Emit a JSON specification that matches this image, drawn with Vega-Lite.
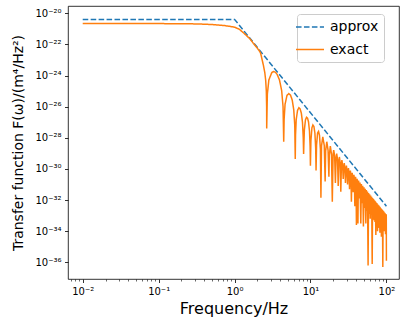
{
  "$schema": "https://vega.github.io/schema/vega-lite/v6.json",
  "width": 331,
  "height": 273,
  "autosize": "none",
  "padding": {"left": 68, "top": 6, "right": 9, "bottom": 47},
  "config": {
    "font": "DejaVu Sans",
    "view": {"stroke": "#000000", "strokeWidth": 0.8},
    "axis": {
      "grid": false, "domain": false,
      "tickColor": "#000000", "labelColor": "#000000", "titleColor": "#000000",
      "labelFont": "DejaVu Sans", "titleFont": "DejaVu Sans",
      "labelFontSize": 10, "titleFontWeight": "normal",
      "tickSize": 3.5, "tickWidth": 0.8, "labelPadding": 3.5,
      "labelFlush": false, "labelOverlap": false
    }
  },
  "datasets": {
    "approx": [
      {"f": 0.01, "F": 4.07e-21, "s": "approx"},
      {"f": 1, "F": 4.07e-21, "s": "approx"},
      {"f": 100, "F": 4.07e-33, "s": "approx"}
    ],
    "exact": [
      {"f": 0.01, "F": 2.188e-21, "s": "exact"},
      {"f": 0.05, "F": 2.188e-21, "s": "exact"},
      {"f": 0.1, "F": 2.188e-21, "s": "exact"},
      {"f": 0.2, "F": 2.138e-21, "s": "exact"},
      {"f": 0.3, "F": 2.089e-21, "s": "exact"},
      {"f": 0.4, "F": 1.995e-21, "s": "exact"},
      {"f": 0.5, "F": 1.905e-21, "s": "exact"},
      {"f": 0.6, "F": 1.778e-21, "s": "exact"},
      {"f": 0.714, "F": 1.66e-21, "s": "exact"},
      {"f": 0.85, "F": 1.479e-21, "s": "exact"},
      {"f": 1.0, "F": 1.288e-21, "s": "exact"},
      {"f": 1.15, "F": 9.55e-22, "s": "exact"},
      {"f": 1.31, "F": 5.623e-22, "s": "exact"},
      {"f": 1.45, "F": 3.548e-22, "s": "exact"},
      {"f": 1.6, "F": 2.239e-22, "s": "exact"},
      {"f": 1.77, "F": 1.175e-22, "s": "exact"},
      {"f": 1.96, "F": 6.31e-23, "s": "exact"},
      {"f": 2.1, "F": 4.169e-23, "s": "exact"},
      {"f": 2.2, "F": 2.818e-23, "s": "exact"},
      {"f": 2.3, "F": 1.122e-23, "s": "exact"},
      {"f": 2.4, "F": 4.467e-24, "s": "exact"},
      {"f": 2.5, "F": 1.585e-24, "s": "exact"},
      {"f": 2.57, "F": 5.012e-25, "s": "exact"},
      {"f": 2.62, "F": 1e-25, "s": "exact"},
      {"f": 2.645, "F": 1e-26, "s": "exact"},
      {"f": 2.65, "F": 3.981e-28, "s": "exact"},
      {"f": 2.704, "F": 6.457e-26, "s": "exact"},
      {"f": 2.829, "F": 5.248e-25, "s": "exact"},
      {"f": 3.0975, "F": 1.585e-24, "s": "exact"},
      {"f": 3.2765, "F": 1.82e-24, "s": "exact"},
      {"f": 3.4555, "F": 1.622e-24, "s": "exact"},
      {"f": 3.6345, "F": 1.202e-24, "s": "exact"},
      {"f": 3.903, "F": 5.248e-25, "s": "exact"},
      {"f": 4.1715, "F": 1.096e-25, "s": "exact"},
      {"f": 4.3505, "F": 1.023e-26, "s": "exact"},
      {"f": 4.44, "F": 5.623e-29, "s": "exact"},
      {"f": 4.496, "F": 1.585e-27, "s": "exact"},
      {"f": 4.626, "F": 1.445e-26, "s": "exact"},
      {"f": 4.905, "F": 5.37e-26, "s": "exact"},
      {"f": 5.184, "F": 6.918e-26, "s": "exact"},
      {"f": 5.463, "F": 5.495e-26, "s": "exact"},
      {"f": 5.742, "F": 2.692e-26, "s": "exact"},
      {"f": 6.021, "F": 6.31e-27, "s": "exact"},
      {"f": 6.207, "F": 6.31e-28, "s": "exact"},
      {"f": 6.3, "F": 4.365e-30, "s": "exact"},
      {"f": 6.355, "F": 1.514e-28, "s": "exact"},
      {"f": 6.482, "F": 1.445e-27, "s": "exact"},
      {"f": 6.755, "F": 5.888e-27, "s": "exact"},
      {"f": 7.028, "F": 8.511e-27, "s": "exact"},
      {"f": 7.301, "F": 7.244e-27, "s": "exact"},
      {"f": 7.574, "F": 3.89e-27, "s": "exact"},
      {"f": 7.847, "F": 9.772e-28, "s": "exact"},
      {"f": 8.029, "F": 1.023e-28, "s": "exact"},
      {"f": 8.12, "F": 9.12e-30, "s": "exact"},
      {"f": 8.176, "F": 3.311e-29, "s": "exact"},
      {"f": 8.306, "F": 3.236e-28, "s": "exact"},
      {"f": 8.585, "F": 1.413e-27, "s": "exact"},
      {"f": 8.864, "F": 2.089e-27, "s": "exact"},
      {"f": 9.143, "F": 1.862e-27, "s": "exact"},
      {"f": 9.422, "F": 1.047e-27, "s": "exact"},
      {"f": 9.701, "F": 2.754e-28, "s": "exact"},
      {"f": 9.887, "F": 2.951e-29, "s": "exact"},
      {"f": 9.98, "F": 1.585e-30, "s": "exact"},
      {"f": 10.129, "F": 6.457e-29, "s": "exact"},
      {"f": 10.445, "F": 4.365e-28, "s": "exact"},
      {"f": 10.761, "F": 6.761e-28, "s": "exact"},
      {"f": 11.096, "F": 5.37e-28, "s": "exact"},
      {"f": 11.431, "F": 2.042e-28, "s": "exact"},
      {"f": 11.71, "F": 2.089e-29, "s": "exact"},
      {"f": 11.84, "F": 7.943e-31, "s": "exact"},
      {"f": 12.026, "F": 3.548e-29, "s": "exact"},
      {"f": 12.398, "F": 2.042e-28, "s": "exact"},
      {"f": 12.77, "F": 2.57e-28, "s": "exact"},
      {"f": 13.142, "F": 1.445e-28, "s": "exact"},
      {"f": 13.514, "F": 1.778e-29, "s": "exact"},
      {"f": 13.72, "F": 1.413e-32, "s": "exact"},
      {"f": 13.979, "F": 3.09e-29, "s": "exact"},
      {"f": 14.537, "F": 1.148e-28, "s": "exact"},
      {"f": 15.188, "F": 3.162e-29, "s": "exact"},
      {"f": 15.6, "F": 1.585e-31, "s": "exact"},
      {"f": 15.839, "F": 1.445e-29, "s": "exact"},
      {"f": 16.397, "F": 5.623e-29, "s": "exact"},
      {"f": 17.048, "F": 1.585e-29, "s": "exact"},
      {"f": 17.48, "F": 3.162e-31, "s": "exact"},
      {"f": 17.699, "F": 7.413e-30, "s": "exact"},
      {"f": 18.257, "F": 2.951e-29, "s": "exact"},
      {"f": 18.908, "F": 8.511e-30, "s": "exact"},
      {"f": 19.38, "F": 7.943e-33, "s": "exact"},
      {"f": 19.855, "F": 9.12e-30, "s": "exact"},
      {"f": 20.23, "F": 1.622e-29, "s": "exact"},
      {"f": 20.805, "F": 6.918e-30, "s": "exact"},
      {"f": 21.28, "F": 1.259e-31, "s": "exact"},
      {"f": 21.755, "F": 5.248e-30, "s": "exact"},
      {"f": 22.13, "F": 9.55e-30, "s": "exact"},
      {"f": 22.705, "F": 4.074e-30, "s": "exact"},
      {"f": 23.18, "F": 7.943e-32, "s": "exact"},
      {"f": 23.655, "F": 3.236e-30, "s": "exact"},
      {"f": 24.03, "F": 5.888e-30, "s": "exact"},
      {"f": 24.605, "F": 2.512e-30, "s": "exact"},
      {"f": 25.08, "F": 3.467e-32, "s": "exact"},
      {"f": 25.555, "F": 1.995e-30, "s": "exact"},
      {"f": 25.93, "F": 3.715e-30, "s": "exact"},
      {"f": 26.505, "F": 1.622e-30, "s": "exact"},
      {"f": 26.98, "F": 2.239e-31, "s": "exact"},
      {"f": 27.455, "F": 1.318e-30, "s": "exact"},
      {"f": 27.83, "F": 2.399e-30, "s": "exact"},
      {"f": 28.405, "F": 1.072e-30, "s": "exact"},
      {"f": 28.88, "F": 1.259e-31, "s": "exact"},
      {"f": 29.355, "F": 8.71e-31, "s": "exact"},
      {"f": 29.73, "F": 1.622e-30, "s": "exact"},
      {"f": 30.305, "F": 7.244e-31, "s": "exact"},
      {"f": 30.78, "F": 1e-31, "s": "exact"},
      {"f": 31.255, "F": 6.026e-31, "s": "exact"},
      {"f": 31.63, "F": 1.122e-30, "s": "exact"},
      {"f": 32.205, "F": 5.012e-31, "s": "exact"},
      {"f": 32.68, "F": 5.012e-32, "s": "exact"},
      {"f": 33.155, "F": 4.266e-31, "s": "exact"},
      {"f": 33.53, "F": 7.943e-31, "s": "exact"},
      {"f": 34.105, "F": 3.548e-31, "s": "exact"},
      {"f": 34.58, "F": 7.943e-33, "s": "exact"},
      {"f": 35.055, "F": 3.02e-31, "s": "exact"},
      {"f": 35.43, "F": 5.623e-31, "s": "exact"},
      {"f": 36.005, "F": 2.57e-31, "s": "exact"},
      {"f": 36.48, "F": 3.162e-32, "s": "exact"},
      {"f": 36.955, "F": 2.188e-31, "s": "exact"},
      {"f": 37.33, "F": 4.169e-31, "s": "exact"},
      {"f": 37.905, "F": 1.905e-31, "s": "exact"},
      {"f": 38.38, "F": 3.981e-33, "s": "exact"},
      {"f": 38.855, "F": 1.622e-31, "s": "exact"},
      {"f": 39.23, "F": 3.09e-31, "s": "exact"},
      {"f": 39.805, "F": 1.413e-31, "s": "exact"},
      {"f": 40.28, "F": 2.512e-34, "s": "exact"},
      {"f": 40.755, "F": 1.23e-31, "s": "exact"},
      {"f": 41.13, "F": 2.291e-31, "s": "exact"},
      {"f": 41.705, "F": 1.072e-31, "s": "exact"},
      {"f": 42.18, "F": 3.162e-34, "s": "exact"},
      {"f": 42.655, "F": 9.333e-32, "s": "exact"},
      {"f": 43.03, "F": 1.778e-31, "s": "exact"},
      {"f": 43.605, "F": 8.128e-32, "s": "exact"},
      {"f": 44.08, "F": 1.259e-32, "s": "exact"},
      {"f": 44.93, "F": 1.349e-31, "s": "exact"},
      {"f": 45.98, "F": 3.162e-34, "s": "exact"},
      {"f": 46.83, "F": 1.072e-31, "s": "exact"},
      {"f": 47.88, "F": 6.31e-33, "s": "exact"},
      {"f": 48.73, "F": 8.318e-32, "s": "exact"},
      {"f": 49.78, "F": 1.995e-34, "s": "exact"},
      {"f": 50.63, "F": 6.607e-32, "s": "exact"},
      {"f": 51.68, "F": 3.162e-33, "s": "exact"},
      {"f": 52.53, "F": 5.37e-32, "s": "exact"},
      {"f": 53.58, "F": 3.162e-34, "s": "exact"},
      {"f": 54.43, "F": 4.365e-32, "s": "exact"},
      {"f": 55.48, "F": 1.995e-33, "s": "exact"},
      {"f": 56.33, "F": 3.548e-32, "s": "exact"},
      {"f": 57.38, "F": 6.31e-37, "s": "exact"},
      {"f": 58.23, "F": 2.884e-32, "s": "exact"},
      {"f": 59.28, "F": 1.259e-33, "s": "exact"},
      {"f": 60.13, "F": 2.399e-32, "s": "exact"},
      {"f": 61.18, "F": 6.31e-34, "s": "exact"},
      {"f": 62.03, "F": 1.95e-32, "s": "exact"},
      {"f": 63.08, "F": 1.259e-33, "s": "exact"},
      {"f": 63.93, "F": 1.66e-32, "s": "exact"},
      {"f": 64.98, "F": 7.943e-37, "s": "exact"},
      {"f": 65.83, "F": 1.38e-32, "s": "exact"},
      {"f": 66.88, "F": 6.31e-34, "s": "exact"},
      {"f": 67.73, "F": 1.175e-32, "s": "exact"},
      {"f": 68.78, "F": 5.012e-34, "s": "exact"},
      {"f": 69.63, "F": 9.772e-33, "s": "exact"},
      {"f": 70.68, "F": 3.981e-34, "s": "exact"},
      {"f": 71.53, "F": 8.318e-33, "s": "exact"},
      {"f": 72.58, "F": 5.623e-35, "s": "exact"},
      {"f": 73.43, "F": 7.079e-33, "s": "exact"},
      {"f": 74.48, "F": 3.162e-34, "s": "exact"},
      {"f": 75.33, "F": 6.166e-33, "s": "exact"},
      {"f": 76.38, "F": 1e-34, "s": "exact"},
      {"f": 77.23, "F": 5.248e-33, "s": "exact"},
      {"f": 78.28, "F": 2.512e-34, "s": "exact"},
      {"f": 79.13, "F": 4.571e-33, "s": "exact"},
      {"f": 80.18, "F": 1.585e-34, "s": "exact"},
      {"f": 81.03, "F": 3.981e-33, "s": "exact"},
      {"f": 82.08, "F": 7.943e-35, "s": "exact"},
      {"f": 82.93, "F": 3.467e-33, "s": "exact"},
      {"f": 83.98, "F": 1.995e-34, "s": "exact"},
      {"f": 84.83, "F": 3.02e-33, "s": "exact"},
      {"f": 85.88, "F": 4.467e-35, "s": "exact"},
      {"f": 86.73, "F": 2.63e-33, "s": "exact"},
      {"f": 87.78, "F": 1.585e-34, "s": "exact"},
      {"f": 88.63, "F": 2.291e-33, "s": "exact"},
      {"f": 89.68, "F": 5.012e-37, "s": "exact"},
      {"f": 90.53, "F": 2.042e-33, "s": "exact"},
      {"f": 91.58, "F": 1.259e-34, "s": "exact"},
      {"f": 92.43, "F": 1.82e-33, "s": "exact"},
      {"f": 93.48, "F": 1e-34, "s": "exact"},
      {"f": 94.33, "F": 1.585e-33, "s": "exact"},
      {"f": 95.38, "F": 1.259e-34, "s": "exact"},
      {"f": 96.23, "F": 1.413e-33, "s": "exact"},
      {"f": 97.28, "F": 6.31e-35, "s": "exact"},
      {"f": 98.13, "F": 1.259e-33, "s": "exact"},
      {"f": 99.18, "F": 1e-34, "s": "exact"},
      {"f": 99.6, "F": 1.175e-33, "s": "exact"},
      {"f": 100, "F": 1.259e-36, "s": "exact"}
    ]
  },
  "encoding": {
    "x": {
      "field": "f", "type": "quantitative",
      "scale": {"type": "log", "domain": [0.0064, 146.5], "nice": false},
      "axis": {
        "title": "Frequency/Hz", "titleFontSize": 16,
        "titleBaseline": "alphabetic", "titleY": 34.5,
        "values": [0.007, 0.008, 0.009, 0.01, 0.02, 0.03, 0.04, 0.05, 0.06, 0.07, 0.08, 0.09, 0.1, 0.2, 0.3, 0.4, 0.5, 0.6, 0.7, 0.8, 0.9, 1, 2, 3, 4, 5, 6, 7, 8, 9, 10, 20, 30, 40, 50, 60, 70, 80, 90, 100],
        "tickSize": {"condition": {"test": "abs(log(datum.value)/LN10 - round(log(datum.value)/LN10)) < 0.01", "value": 3.5}, "value": 2},
        "tickWidth": {"condition": {"test": "abs(log(datum.value)/LN10 - round(log(datum.value)/LN10)) < 0.01", "value": 0.8}, "value": 0.6},
        "labelExpr": "abs(log(datum.value)/LN10 - round(log(datum.value)/LN10)) < 0.01 ? '10' + replace(replace(replace(replace(replace(replace(replace(replace(replace(replace(replace('' + round(log(datum.value)/LN10), regexp('-','g'), '⁻'), regexp('0','g'), '⁰'), regexp('1','g'), '¹'), regexp('2','g'), '²'), regexp('3','g'), '³'), regexp('4','g'), '⁴'), regexp('5','g'), '⁵'), regexp('6','g'), '⁶'), regexp('7','g'), '⁷'), regexp('8','g'), '⁸'), regexp('9','g'), '⁹') : ''"
      }
    },
    "y": {
      "field": "F", "type": "quantitative",
      "scale": {"type": "log", "domain": [8.511e-38, 2.951e-20], "nice": false},
      "axis": {
        "title": "Transfer function F(ω)/(m⁴/Hz²)", "titleFontSize": 14,
        "titleBaseline": "alphabetic", "titleX": -46,
        "values": [1e-36, 1e-34, 1e-32, 1e-30, 1e-28, 1e-26, 1e-24, 1e-22, 1e-20],
        "labelExpr": "'10' + replace(replace(replace(replace(replace(replace(replace(replace(replace(replace(replace('' + round(log(datum.value)/LN10), regexp('-','g'), '⁻'), regexp('0','g'), '⁰'), regexp('1','g'), '¹'), regexp('2','g'), '²'), regexp('3','g'), '³'), regexp('4','g'), '⁴'), regexp('5','g'), '⁵'), regexp('6','g'), '⁶'), regexp('7','g'), '⁷'), regexp('8','g'), '⁸'), regexp('9','g'), '⁹')"
      }
    },
    "color": {
      "field": "s", "type": "nominal",
      "scale": {"domain": ["approx", "exact"], "range": ["#1f77b4", "#ff7f0e"]},
      "legend": {"title": null, "orient": "none", "legendX": 229, "legendY": 8,
        "padding": 5, "fillColor": "rgba(255,255,255,0.8)", "strokeColor": "#cccccc",
        "cornerRadius": 3, "labelFontSize": 14, "labelColor": "#000000",
        "labelFont": "DejaVu Sans", "symbolSize": 196, "symbolStrokeWidth": 1.5,
        "labelOffset": 12, "rowPadding": 7.6, "symbolType": "M-2,0L2,0", "labelLimit": 200}
    },
    "strokeDash": {
      "field": "s", "type": "nominal",
      "scale": {"domain": ["approx", "exact"], "range": [[5.55, 2.4], [1, 0]]},
      "legend": {"title": null, "orient": "none", "legendX": 229, "legendY": 8,
        "padding": 5, "fillColor": "rgba(255,255,255,0.8)", "strokeColor": "#cccccc",
        "cornerRadius": 3, "labelFontSize": 14, "labelColor": "#000000",
        "labelFont": "DejaVu Sans", "symbolSize": 196, "symbolStrokeWidth": 1.5,
        "labelOffset": 12, "rowPadding": 7.6, "symbolType": "M-2,0L2,0", "labelLimit": 200}
    }
  },
  "layer": [
    {"data": {"name": "approx"}, "mark": {"type": "line", "strokeWidth": 1.5, "clip": true}},
    {"data": {"name": "exact"}, "mark": {"type": "line", "strokeWidth": 1.5, "clip": true}}
  ]
}
